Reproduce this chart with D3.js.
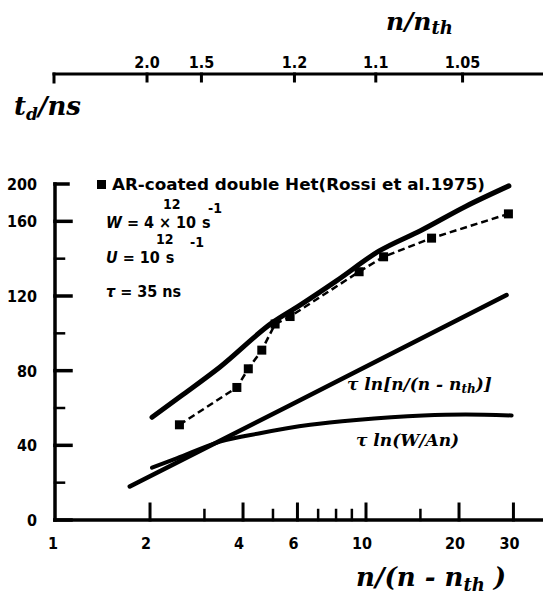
<!DOCTYPE html>
<html>
<head>
<meta charset="utf-8">
<script src="https://cdn.jsdelivr.net/npm/d3@7/dist/d3.min.js"></script>
<style>
  body { margin: 0; background: #fff; }
  text { fill: #000; }
  .tick-label { font-family: "DejaVu Sans Condensed", "DejaVu Sans", sans-serif; font-weight: bold; font-size: 16px; }
  .hand { font-family: "DejaVu Serif", serif; font-style: italic; font-weight: bold; }
</style>
</head>
<body>
<svg id="chart" width="543" height="600"></svg>
<script>
// values: [n/(n - n_th), t_d in ns]
const theoryCurve = [[2.03, 55], [2.5, 66], [3.37, 82], [5.0, 106], [6.1, 115], [8.0, 128],
                     [11, 144], [15, 155], [21, 168], [29, 179]];
const lnRatioLine = [[1.72, 18], [5.68, 61.5], [28.5, 120.5]];
const lnWLine = [[2.03, 28], [2.44, 33], [3.37, 42], [4.54, 46.5], [6.6, 51], [9.3, 53.6],
                 [15.3, 56], [21, 56.5], [29.6, 56]];
const rossiData = [[2.49, 51], [3.82, 71], [4.16, 81], [4.6, 91], [5.08, 105], [5.68, 109],
                   [9.5, 133], [11.4, 141], [16.3, 151], [28.9, 164]];

// bottom axis
const xMajor = [2, 4, 6, 10, 20, 30];
const xMinor = [3, 5, 7, 8, 9, 15];
const xLabels = [1, 2, 4, 6, 10, 20, 30];
// left axis (the original prints "200" at the top mark, which sits at 180)
const yMajor = [0, 40, 80, 120, 160];
const yMinor = [20, 60, 100, 140];
const yTopValue = 180;
const yTopLabel = "200";
// top axis: n/n_th, sits at n/(n - n_th) = r/(r - 1)
const topLabels = ["2.0", "1.5", "1.2", "1.1", "1.05"];
const topValues = [2.0, 1.5, 1.2, 1.1, 1.05];

const legendText = "AR-coated double Het(Rossi et al.1975)";

const svg = d3.select("#chart");

const x = d3.scaleLog().domain([1, 10]).range([57, 366]);
const xTop = d3.scaleLog().domain([1, 10]).range([54, 363]);
const y = d3.scaleLinear().domain([0, 180]).range([520, 184]);

const axisG = svg.append("g").attr("stroke", "#000").attr("stroke-linecap", "square");

// left axis
axisG.append("line")
  .attr("x1", 55).attr("x2", 55)
  .attr("y1", y(0)).attr("y2", y(yTopValue))
  .attr("stroke-width", 3.5);
axisG.append("line")
  .attr("x1", 55).attr("x2", 68)
  .attr("y1", y(yTopValue)).attr("y2", y(yTopValue))
  .attr("stroke-width", 3.5);

axisG.selectAll(".ymaj").data(yMajor).join("line")
  .attr("x1", 55).attr("x2", 71)
  .attr("y1", d => y(d)).attr("y2", d => y(d))
  .attr("stroke-width", 3.5);
axisG.selectAll(".ymin").data(yMinor).join("line")
  .attr("x1", 55).attr("x2", 64)
  .attr("y1", d => y(d)).attr("y2", d => y(d))
  .attr("stroke-width", 2.5);

svg.selectAll(".ylab").data(yMajor).join("text")
  .attr("class", "tick-label")
  .attr("x", 37).attr("y", d => y(d) + 6)
  .attr("text-anchor", "end")
  .text(d => d);
svg.append("text")
  .attr("class", "tick-label")
  .attr("x", 37).attr("y", y(yTopValue) + 6)
  .attr("text-anchor", "end")
  .text(yTopLabel);

// bottom axis
axisG.append("line")
  .attr("x1", 55).attr("x2", 543)
  .attr("y1", 520).attr("y2", 520)
  .attr("stroke-width", 3.5);
axisG.selectAll(".xmaj").data(xMajor).join("line")
  .attr("x1", d => x(d)).attr("x2", d => x(d))
  .attr("y1", 520).attr("y2", 504)
  .attr("stroke-width", 3);
axisG.selectAll(".xmin").data(xMinor).join("line")
  .attr("x1", d => x(d)).attr("x2", d => x(d))
  .attr("y1", 520).attr("y2", 510)
  .attr("stroke-width", 2.5);
svg.selectAll(".xlab").data(xLabels).join("text")
  .attr("class", "tick-label")
  .attr("font-size", "17px")
  .attr("x", d => x(d) - 4).attr("y", 549)
  .attr("text-anchor", "middle")
  .text(d => d);

// top axis
axisG.append("line")
  .attr("x1", 54).attr("x2", 543)
  .attr("y1", 74).attr("y2", 74)
  .attr("stroke-width", 3);
axisG.append("line")
  .attr("x1", 54).attr("x2", 54).attr("y1", 74).attr("y2", 82)
  .attr("stroke-width", 3);
axisG.selectAll(".topt").data(topValues).join("line")
  .attr("x1", r => xTop(r / (r - 1))).attr("x2", r => xTop(r / (r - 1)))
  .attr("y1", 74).attr("y2", 81)
  .attr("stroke-width", 3);
svg.selectAll(".toplab").data(topValues).join("text")
  .attr("class", "tick-label")
  .attr("x", r => xTop(r / (r - 1)))
  .attr("y", 68)
  .attr("text-anchor", "middle")
  .text((r, i) => topLabels[i]);

// curves
const line = d3.line()
  .x(d => x(d[0]))
  .y(d => y(d[1]))
  .curve(d3.curveMonotoneX);

svg.append("path")
  .datum(theoryCurve)
  .attr("fill", "none")
  .attr("stroke", "#000")
  .attr("stroke-width", 5)
  .attr("stroke-linecap", "round")
  .attr("d", line);

svg.append("path")
  .datum(lnRatioLine)
  .attr("fill", "none")
  .attr("stroke", "#000")
  .attr("stroke-width", 4.5)
  .attr("stroke-linecap", "round")
  .attr("d", line);

svg.append("path")
  .datum(lnWLine)
  .attr("fill", "none")
  .attr("stroke", "#000")
  .attr("stroke-width", 4)
  .attr("stroke-linecap", "round")
  .attr("d", line);

svg.append("path")
  .datum(rossiData)
  .attr("fill", "none")
  .attr("stroke", "#000")
  .attr("stroke-width", 2.5)
  .attr("stroke-dasharray", "7,4")
  .attr("d", d3.line().x(d => x(d[0])).y(d => y(d[1])));

svg.selectAll(".pt").data(rossiData).join("rect")
  .attr("x", d => x(d[0]) - 4.5)
  .attr("y", d => y(d[1]) - 4.5)
  .attr("width", 9).attr("height", 9)
  .attr("fill", "#000");

// legend
svg.append("rect")
  .attr("x", 97).attr("y", 180).attr("width", 9).attr("height", 9)
  .attr("fill", "#000");
svg.append("text")
  .attr("class", "tick-label")
  .attr("font-size", "15px")
  .attr("x", 112).attr("y", 190)
  .attr("textLength", 373)
  .attr("lengthAdjust", "spacingAndGlyphs")
  .text(legendText);

// parameters
const params = svg.append("g").attr("class", "tick-label").attr("font-size", "17px");
const wRow = params.append("text").attr("x", 106).attr("y", 228);
wRow.append("tspan").attr("font-style", "italic").text("W");
wRow.append("tspan").text(" = 4 × 10");
wRow.append("tspan").attr("dx", 6).text("s");
params.append("text").attr("x", 163).attr("y", 209).attr("font-size", "14px").text("12");
params.append("text").attr("x", 208).attr("y", 213).attr("font-size", "14px").text("-1");

const uRow = params.append("text").attr("x", 106).attr("y", 263);
uRow.append("tspan").attr("font-style", "italic").text("U");
uRow.append("tspan").text(" =   10");
uRow.append("tspan").attr("dx", 6).text("s");
params.append("text").attr("x", 156).attr("y", 244).attr("font-size", "14px").text("12");
params.append("text").attr("x", 190).attr("y", 247).attr("font-size", "14px").text("-1");

const tRow = params.append("text").attr("x", 106).attr("y", 297);
tRow.append("tspan").attr("font-style", "italic").text("τ");
tRow.append("tspan").text(" =   35 ns");

// handwritten axis titles
const topTitle = svg.append("text").attr("class", "hand").attr("font-size", "25px")
  .attr("x", 386).attr("y", 30);
topTitle.append("tspan").text("n/n");
topTitle.append("tspan").attr("font-size", "18px").attr("dy", 4).text("th");

const yTitle = svg.append("text").attr("class", "hand").attr("font-size", "26px")
  .attr("x", 14).attr("y", 115);
yTitle.append("tspan").text("t");
yTitle.append("tspan").attr("font-size", "17px").attr("dy", 5).text("d");
yTitle.append("tspan").attr("dy", -5).text("/ns");

const xTitle = svg.append("text").attr("class", "hand").attr("font-size", "26px")
  .attr("x", 356).attr("y", 586);
xTitle.append("tspan").text("n/(n - n");
xTitle.append("tspan").attr("font-size", "18px").attr("dy", 5).text("th");
xTitle.append("tspan").attr("dy", -5).text(" )");

// curve labels
const lab1 = svg.append("text").attr("class", "hand").attr("font-size", "17px")
  .attr("x", 347).attr("y", 390);
lab1.append("tspan").text("τ ln[n/(n - n");
lab1.append("tspan").attr("font-size", "12px").attr("dy", 3).text("th");
lab1.append("tspan").attr("dy", -3).text(")]");

svg.append("text").attr("class", "hand").attr("font-size", "17px")
  .attr("x", 356).attr("y", 446)
  .text("τ ln(W/An)");
</script>
</body>
</html>
